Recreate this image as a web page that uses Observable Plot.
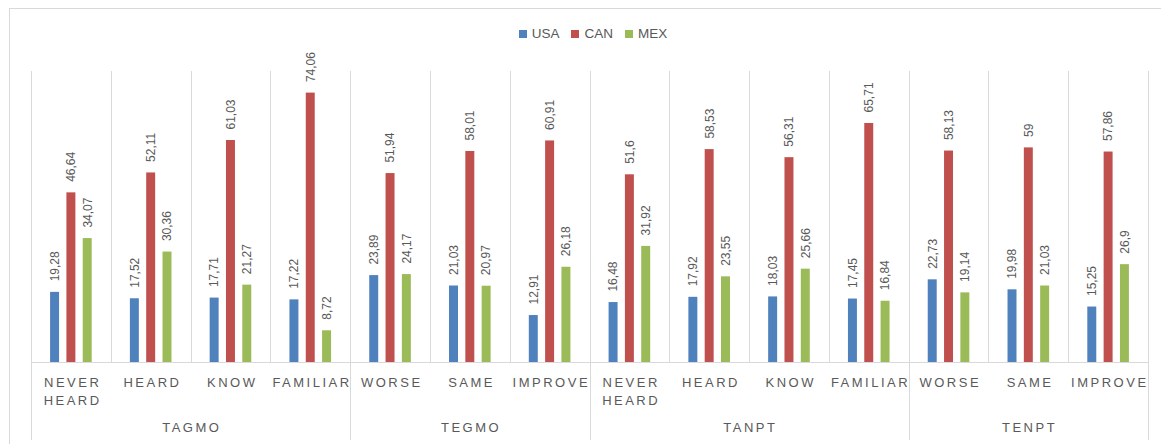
<!DOCTYPE html>
<html><head><meta charset="utf-8">
<script src="https://cdn.jsdelivr.net/npm/d3@7"></script>
<script src="https://cdn.jsdelivr.net/npm/@observablehq/plot@0.6"></script>
<style>
body{margin:0;background:#fff;font-family:"Liberation Sans",Arial,sans-serif;}
#wrap{position:relative;width:1161px;height:444px;overflow:hidden;background:#fff}
#border{position:absolute;left:9px;top:8px;width:1170px;height:460px;border:1px solid #d9d9d9;box-sizing:border-box}
#legend{position:absolute;left:0;top:26px;width:1186px;display:flex;justify-content:center;align-items:center;font-size:13.5px;line-height:16px;color:#595959;z-index:2}
.item{display:flex;align-items:center;margin:0 6px}
.sw{width:8px;height:8px;margin-right:5px}
#chart{position:absolute;left:0;top:0;z-index:1}
g[font-size="13"] text{letter-spacing:2.5px}
</style></head>
<body>
<div id="wrap"><div id="border"></div><div id="chart"></div><div id="legend"></div></div>
<script>
const groups = ["TAGMO","TAGMO","TAGMO","TAGMO","TEGMO","TEGMO","TEGMO","TANPT","TANPT","TANPT","TANPT","TENPT","TENPT","TENPT"];
const categories = ["NEVER\nHEARD","HEARD","KNOW","FAMILIAR","WORSE","SAME","IMPROVE","NEVER\nHEARD","HEARD","KNOW","FAMILIAR","WORSE","SAME","IMPROVE"];
const series = ["USA","CAN","MEX"];
const usa = [19.28,17.52,17.71,17.22,23.89,21.03,12.91,16.48,17.92,18.03,17.45,22.73,19.98,15.25];
const can = [46.64,52.11,61.03,74.06,51.94,58.01,60.91,51.6,58.53,56.31,65.71,58.13,59,57.86];
const mex = [34.07,30.36,21.27,8.72,24.17,20.97,26.18,31.92,23.55,25.66,16.84,19.14,21.03,26.9];
const colors = ["#4F81BD","#C0504D","#9BBB59"];

const keys = categories.map((c, i) => i);
const rows = [];
[usa, can, mex].forEach((vals, s) => vals.forEach((v, i) => rows.push({key: i, series: series[s], value: v})));
const fmt = v => String(v).replace(".", ",");

// legend
const leg = document.getElementById("legend");
series.forEach((s, i) => {
  const it = document.createElement("div"); it.className = "item";
  it.innerHTML = `<div class="sw" style="background:${colors[i]}"></div><span>${s}</span>`;
  leg.appendChild(it);
});

const plot = Plot.plot({
  width: 1161, height: 444,
  marginLeft: 31, marginRight: 13, marginTop: 71, marginBottom: 82,
  style: {fontFamily: "Liberation Sans, Arial, sans-serif", background: "transparent", overflow: "visible"},
  fx: {domain: keys, padding: 0, round: false, axis: null},
  x: {domain: series, paddingInner: 0.45, paddingOuter: 1.17, round: false, axis: null},
  y: {domain: [0, 80], axis: null},
  color: {domain: series, range: colors},
  marks: [
    Plot.barY(rows, {fx: "key", x: "series", y: "value", fill: "series"}),
    Plot.text(rows, {fx: "key", x: "series", y: "value", text: d => fmt(d.value), rotate: -90, textAnchor: "start", dy: -11, fill: "#595959", fontSize: 12}),
    Plot.text(keys, {fx: d => d, text: d => categories[d], frameAnchor: "bottom", lineAnchor: "top", dy: 12, dx: 1.25, fontSize: 13, lineHeight: 1.38, fill: "#595959"})
  ]
});
document.getElementById("chart").appendChild(plot);

// separators and group labels from the library's scales
const fx = plot.scale("fx");
const ys = plot.scale("y");
const bw = fx.bandwidth;
const svg = d3.select(plot);
const yTop = ys.apply(80), yBase = ys.apply(0), yBot = 440;
const lg = svg.append("g").attr("stroke", "#d9d9d9").attr("stroke-width", 1);
keys.forEach(k => {
  const x = Math.round(fx.apply(k)) + 0.5;
  const isGroup = k === 0 || groups[k] !== groups[k - 1];
  lg.append("line").attr("x1", x).attr("x2", x).attr("y1", yTop).attr("y2", isGroup ? yBot : yBase);
});
const xr = Math.round(fx.apply(keys[keys.length - 1]) + bw) + 0.5;
lg.append("line").attr("x1", xr).attr("x2", xr).attr("y1", yTop).attr("y2", yBot);
lg.append("line").attr("x1", fx.apply(keys[0])).attr("x2", xr).attr("y1", Math.round(yBase) + 0.5).attr("y2", Math.round(yBase) + 0.5);

const uniq = [...new Set(groups)];
uniq.forEach(gname => {
  const idx = keys.filter(k => groups[k] === gname);
  const x0 = fx.apply(idx[0]), x1 = fx.apply(idx[idx.length - 1]) + bw;
  svg.append("text").attr("x", (x0 + x1) / 2 + 1.25).attr("y", yBase + 65).attr("dy", "0.35em")
    .attr("text-anchor", "middle").attr("fill", "#595959").attr("font-size", 13)
    .style("letter-spacing", "2.5px").text(gname);
});
</script>
</body></html>
